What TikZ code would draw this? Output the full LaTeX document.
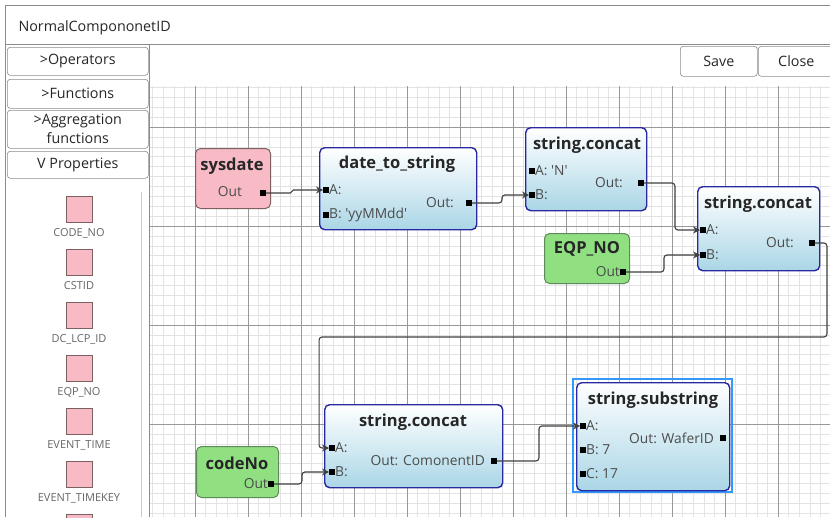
\documentclass[tikz,border=0pt]{standalone}
\usepackage{fontspec}
\setmainfont{Open Sans}
\usetikzlibrary{arrows.meta,positioning}

\definecolor{blockblue}{RGB}{40,40,160}
\definecolor{blockfill}{RGB}{170,214,230}
\definecolor{pinkfill}{RGB}{248,187,198}
\definecolor{pinkline}{RGB}{125,96,96}
\definecolor{greenfill}{RGB}{144,224,130}
\definecolor{greenline}{RGB}{94,138,90}
\definecolor{selblue}{RGB}{51,153,255}

\tikzset{
  minorline/.style={draw=black!11, line width=0.5pt},
  majorline/.style={draw=black!40, line width=0.7pt},
  panelbtn/.style={draw=black!45, rounded corners=3pt, fill=white, line width=0.6pt},
  uitext/.style={font=\fontsize{14.3}{17}\selectfont, text=black!85},
  funcblock/.style={draw=blockblue, line width=1.4pt, rounded corners=5pt, top color=white, bottom color=blockfill, anchor=north west, inner sep=0pt},
  srcpink/.style={draw=pinkline, line width=1pt, rounded corners=5pt, fill=pinkfill, anchor=north west, inner sep=0pt},
  srcgreen/.style={draw=greenline, line width=1pt, rounded corners=5pt, fill=greenfill, anchor=north west, inner sep=0pt},
  blocktitle/.style={font=\bfseries\fontsize{16.5}{19}\selectfont, text=black!85, inner sep=0pt},
  port/.style={rectangle, fill=black, minimum size=5.5pt, inner sep=0pt},
  portlabel/.style={font=\fontsize{13.8}{16}\selectfont, text=black!70, inner sep=0pt},
  itemsq/.style={draw=pinkline, fill=pinkfill, minimum size=26pt, inner sep=0pt, anchor=north},
  itemlabel/.style={font=\fontsize{11}{13}\selectfont, text=black!60, inner sep=0pt},
  conn/.style={draw=black!75, line width=1.1pt, rounded corners=3pt, -{Stealth[length=7pt,width=7pt]}}
}

\begin{document}
\begin{tikzpicture}[x=1pt,y=-1pt]
  \useasboundingbox (0,0) rectangle (830,517);
  \fill[white] (0,0) rectangle (830,517);

  % grid of the canvas
  \begin{scope}
    \clip (150,86) rectangle (830,517);
    \foreach \i in {0,...,64}
      \draw[minorline] ({152.6+10.6*\i},86) -- ++(0,431);
    \foreach \j in {0,...,43}
      \draw[minorline] (150,{87.4+9.9*\j}) -- ++(680,0);
    \foreach \i in {0,...,12}
      \draw[majorline] ({195+53*\i},86) -- ++(0,431);
    \foreach \j in {0,...,3}
      \draw[majorline] (150,{127+99*\j}) -- ++(680,0);
  \end{scope}

  % window frame and title
  \draw[black!45, line width=0.7pt] (5,517) -- (5,5) -- (830,5);
  \draw[black!45, line width=0.7pt] (5,44) -- (830,44);
  \draw[black!45, line width=0.7pt] (149,44) -- (149,517);
  \node[uitext, anchor=west] (title) at (15,28) {NormalCompononetID};

  % buttons
  \node[panelbtn, uitext, minimum width=77pt, minimum height=30pt, anchor=north west] (save) at (680,46) {Save};
  \node[panelbtn, uitext, minimum width=76pt, minimum height=30pt, anchor=north west] (close) at (758,46) {Close};

  % left panel
  \node[panelbtn, uitext, minimum width=141pt, minimum height=28pt, anchor=north west] (ops) at (7,47) {>Operators};
  \node[panelbtn, uitext, minimum width=141pt, minimum height=29pt, anchor=north west] (funcs) at (7,79) {>Functions};
  \node[panelbtn, uitext, minimum width=141pt, minimum height=38pt, anchor=north west, align=center, font=\fontsize{14.3}{19}\selectfont] (aggr) at (7,110) {>Aggregation\\functions};
  \node[panelbtn, uitext, minimum width=141pt, minimum height=27pt, anchor=north west] (props) at (7,151) {V Properties};
  \draw[black!20, line width=0.6pt] (141,192) -- (141,517);

  \foreach \lbl [count=\k from 0] in {CODE\_NO,CSTID,DC\_LCP\_ID,EQP\_NO,EVENT\_TIME,EVENT\_TIMEKEY,{}} {
    \node[itemsq] (sq-\k) at (79,{196+53*\k}) {};
    \node[itemlabel, below=6pt of sq-\k] (lbl-\k) {\lbl};
  }

  % source blocks
  \node[srcpink, minimum width=75pt, minimum height=60pt] (sysdate) at (195,148) {};
  \node[blocktitle] at (232,166) {sysdate};
  \node[port] (sd-out) at (263,193) {};
  \node[portlabel] at (230,192) {Out};

  \node[srcgreen, minimum width=85pt, minimum height=50pt] (eqp) at (544,233) {};
  \node[blocktitle] at (587,249) {EQP\_NO};
  \node[port] (eqp-out) at (623,272) {};
  \node[portlabel, left=0pt of eqp-out] {Out};

  \node[srcgreen, minimum width=82pt, minimum height=51pt] (codeno) at (196,446) {};
  \node[blocktitle] at (237,463) {codeNo};
  \node[port] (cn-out) at (271,484) {};
  \node[portlabel, left=0pt of cn-out] {Out};

  % function blocks
  \node[funcblock, minimum width=157pt, minimum height=82pt] (dts) at (319,147) {};
  \node[blocktitle] at (397,164) {date\_to\_string};
  \node[port] (dts-a) at (326,190) {};
  \node[portlabel, right=0pt of dts-a] {A:};
  \node[port] (dts-b) at (326,215) {};
  \node[portlabel, right=0pt of dts-b] {B: \textquotesingle yyMMdd\textquotesingle};
  \node[port] (dts-out) at (469,203) {};
  \node[portlabel, left=12pt of dts-out] {Out:};

  \node[funcblock, minimum width=121pt, minimum height=83pt] (cc1) at (525,127) {};
  \node[blocktitle] at (587,145) {string.concat};
  \node[port] (cc1-a) at (532,171) {};
  \node[portlabel, right=0pt of cc1-a] {A: \textquotesingle N\textquotesingle};
  \node[port] (cc1-b) at (532,195) {};
  \node[portlabel, right=0pt of cc1-b] {B:};
  \node[port] (cc1-out) at (641,183) {};
  \node[portlabel, left=15pt of cc1-out] {Out:};

  \node[funcblock, minimum width=122pt, minimum height=84pt] (cc2) at (697,186) {};
  \node[blocktitle] at (758,204) {string.concat};
  \node[port] (cc2-a) at (703,230) {};
  \node[portlabel, right=0pt of cc2-a] {A:};
  \node[port] (cc2-b) at (703,255) {};
  \node[portlabel, right=0pt of cc2-b] {B:};
  \node[port] (cc2-out) at (812,243) {};
  \node[portlabel, left=15pt of cc2-out] {Out:};

  \node[funcblock, minimum width=178pt, minimum height=83pt] (cc3) at (324,404) {};
  \node[blocktitle] at (413,422) {string.concat};
  \node[port] (cc3-a) at (332,448) {};
  \node[portlabel, right=0pt of cc3-a] {A:};
  \node[port] (cc3-b) at (332,472) {};
  \node[portlabel, right=0pt of cc3-b] {B:};
  \node[port] (cc3-out) at (494,461) {};
  \node[portlabel, left=6pt of cc3-out] {Out: ComonentID};

  \draw[selblue, line width=2pt] (573,379) rectangle (732,492);
  \node[funcblock, minimum width=153pt, minimum height=108pt] (ss) at (576,382) {};
  \node[blocktitle] at (653,400) {string.substring};
  \node[port] (ss-a) at (583,426) {};
  \node[portlabel, right=0pt of ss-a] {A:};
  \node[port] (ss-b) at (583,450) {};
  \node[portlabel, right=0pt of ss-b] {B: 7};
  \node[port] (ss-c) at (583,474) {};
  \node[portlabel, right=0pt of ss-c] {C: 17};
  \node[port] (ss-out) at (723,438) {};
  \node[portlabel, left=6pt of ss-out] {Out: WaferID};

  % connectors
  \draw[conn, rounded corners=1.5pt] (sd-out.east) -- ++(26,0) |- (dts-a.west);
  \draw[conn] (dts-out.east) -- ++(30,0) |- (cc1-b.west);
  \draw[conn] (cc1-out.east) -- ++(31,0) |- (cc2-a.west);
  \draw[conn] (eqp-out.east) -- ++(38,0) |- (cc2-b.west);
  \draw[conn] (cc2-out.east) -- ++(12,0) -- ++(0,94) -| ([xshift=-10pt]cc3-a.west) -- (cc3-a.west);
  \draw[conn] (cn-out.east) -- ++(28,0) |- (cc3-b.west);
  \draw[conn] (cc3-out.east) -- ++(42,0) |- (ss-a.west);
\end{tikzpicture}
\end{document}
